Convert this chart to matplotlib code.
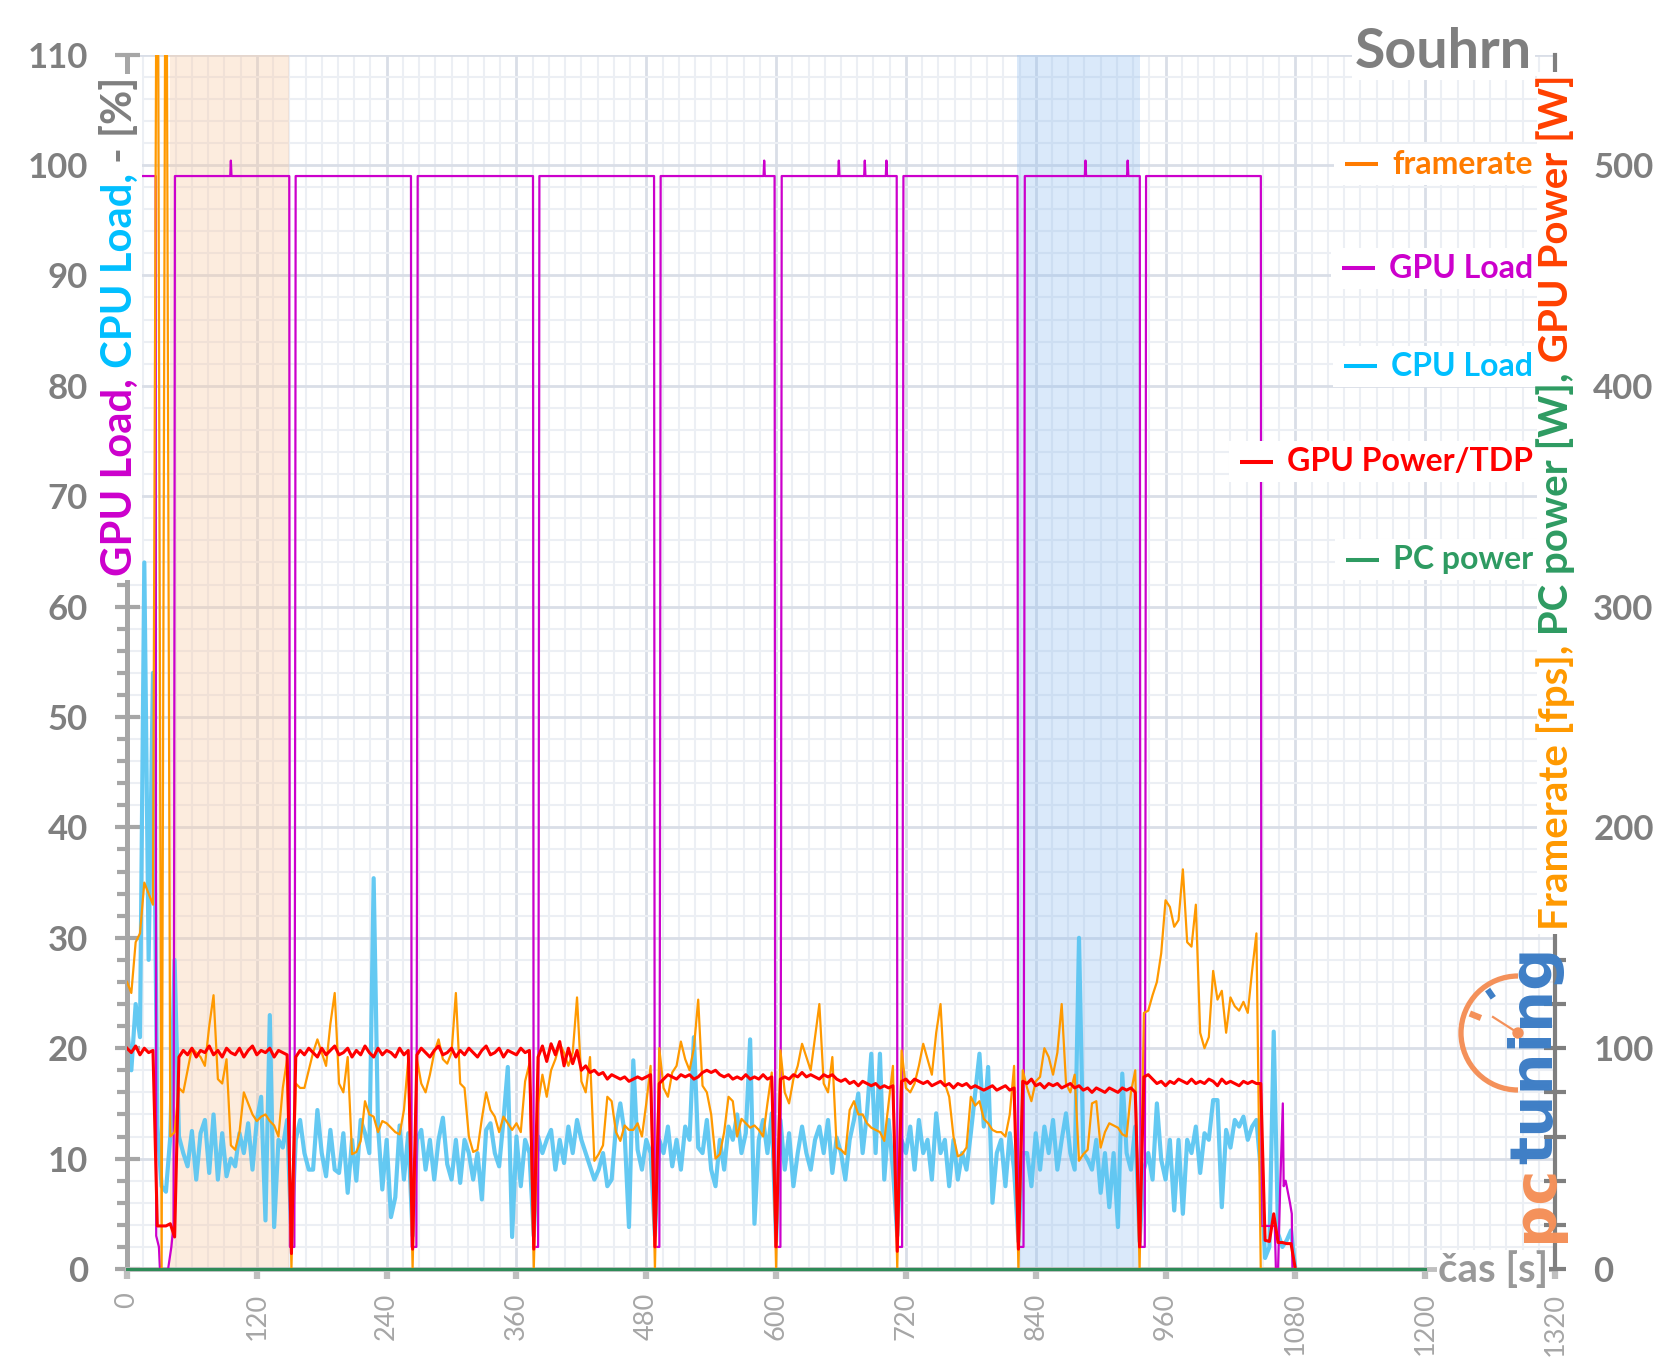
import numpy as np
import matplotlib
matplotlib.use("Agg")
import matplotlib.pyplot as plt
from matplotlib.lines import Line2D
from matplotlib.patches import Rectangle, Arc, Circle
from matplotlib.transforms import IdentityTransform
from matplotlib.ticker import MultipleLocator

plt.rcParams['font.family'] = ['Lato', 'DejaVu Sans']

# ---- data ----
# sample times for the noisy series [s], one sample every 4 s
t = np.arange(0, 1081, 4)

cpu_load = [  # [%]
    22, 18, 24, 21, 64, 28, 54, 13, 7.5, 7,
    12, 28, 12, 10.5, 9.3, 12.5, 8.1, 12.3, 13.5, 8.7,
    14, 8.1, 12.3, 8.4, 10, 9.3, 12.3, 10.5, 13.2, 9,
    13.5, 15.6, 4.4, 23, 3.8, 11.7, 11, 13.5, 2.9, 11.7,
    13.5, 10.5, 9, 9, 14.4, 10.5, 8.4, 12.6, 9, 8.7,
    12.3, 6.9, 11.7, 8, 13.5, 12.3, 10.5, 35.4, 13, 7.2,
    11.7, 4.7, 6.5, 13, 8.1, 12.3, 3, 11.7, 12.6, 9,
    11.7, 8.1, 11.7, 13.7, 9.5, 8.1, 11.7, 7.8, 11.7, 10.5,
    8.1, 10.5, 6.3, 12.6, 13.2, 10.5, 9.3, 13.5, 18.3, 2.9,
    12, 7.5, 11.7, 10.5, 3, 12, 10.5, 11.7, 12.6, 9,
    11.7, 9.6, 12.9, 10.5, 13.5, 11.7, 10.5, 9.3, 8.1, 9,
    10.5, 7.5, 8.1, 12.9, 15, 12.3, 3.8, 18.9, 10.8, 9,
    11.7, 10.5, 3, 11.7, 10.5, 12.9, 9.3, 11.7, 9, 12.9,
    11.7, 21, 11, 10.5, 13.5, 9, 7.5, 11.7, 9, 12.9,
    11.7, 14, 10.5, 12.3, 20.8, 4.1, 11.7, 13.5, 10.5, 14.1,
    2.5, 13.5, 9, 12.3, 7.5, 10.5, 12.9, 10.5, 9, 11.7,
    12.9, 10.5, 13.5, 8.7, 11.9, 10.5, 8.1, 11.7, 13.5, 15.9,
    10.5, 14.1, 19.5, 10.5, 19.5, 8.1, 13.5, 9, 3, 11.7,
    10.5, 12.9, 9, 13.5, 10.5, 11.7, 8.1, 14.1, 10.5, 11.7,
    7.5, 11.7, 8.1, 10.5, 9, 12.3, 15.9, 19.5, 12.9, 18.3,
    6, 10.5, 11.7, 7.5, 12.3, 9, 2.5, 10.5, 10.5, 7.5,
    12.3, 9, 12.9, 10.5, 13.5, 9, 11.7, 14.1, 10.5, 9,
    30, 10.5, 9.9, 9, 11.7, 6.9, 10.5, 5.6, 10.5, 3.8,
    17.7, 10.5, 9, 12.9, 2.5, 9, 10.5, 8.1, 15, 9.9,
    8.1, 11.7, 5.3, 11.7, 5, 11.7, 10.5, 12.9, 8.7, 12.3,
    11.7, 15.3, 15.3, 5.6, 12.6, 11, 13.5, 12.9, 13.8, 11.7,
    12.9, 13.5, 9, 1, 2, 21.5, 3.2, 2, 2.6, 3.5,
    0,
]

framerate = [  # [fps]
    130, 125, 148, 152, 175, 170, 165, 700, 0, 700,
    60, 62, 82, 80, 90, 100, 98, 96, 92, 110,
    124, 86, 84, 95, 56, 54, 62, 80, 75, 70,
    67, 69, 70, 67, 65, 60, 82, 95, 0, 84,
    82, 82, 90, 98, 104, 98, 92, 111, 125, 84,
    80, 96, 52, 53, 58, 76, 70, 69, 62, 67,
    66, 64, 62, 61, 72, 95, 0, 95, 84, 80,
    88, 98, 104, 95, 93, 98, 125, 84, 82, 60,
    53, 54, 68, 80, 72, 69, 62, 69, 66, 63,
    66, 62, 85, 93, 0, 75, 88, 78, 90, 95,
    102, 98, 92, 98, 123, 85, 80, 96, 49, 52,
    56, 78, 76, 62, 58, 65, 63, 63, 66, 60,
    75, 92, 0, 100, 82, 78, 89, 92, 103, 95,
    90, 100, 122, 83, 80, 70, 50, 52, 62, 78,
    76, 60, 68, 66, 64, 65, 63, 60, 75, 89,
    0, 99, 80, 75, 86, 92, 102, 96, 90, 105,
    120, 84, 80, 96, 55, 54, 52, 72, 76, 70,
    70, 66, 64, 63, 62, 58, 75, 92, 0, 99,
    82, 80, 84, 92, 102, 95, 88, 107, 120, 84,
    78, 60, 51, 52, 55, 78, 74, 76, 68, 66,
    63, 62, 62, 60, 70, 92, 0, 90, 82, 76,
    85, 87, 100, 96, 88, 98, 120, 84, 80, 88,
    49, 52, 54, 75, 76, 55, 62, 66, 65, 64,
    61, 60, 80, 90, 0, 116, 117, 124, 130, 143,
    167, 164, 155, 158, 181, 148, 146, 165, 107, 100,
    105, 135, 122, 126, 107, 123, 119, 117, 121, 116,
    135, 152, 0, 0, 0, 0, 0, 0, 0, 0,
    0,
]

gpu_power = [  # [W]
    100, 98, 101, 97, 100, 98, 99, 19.5, 19.5, 19.5,
    20.5, 14.5, 96, 99, 97, 100, 96, 99, 98, 101,
    97, 99, 96, 100, 98, 97, 100, 96, 99, 101,
    97, 99, 98, 100, 96, 99, 98, 97, 7, 96,
    99, 97, 100, 98, 96, 100, 97, 99, 101, 97,
    98, 100, 96, 99, 97, 101, 98, 96, 100, 97,
    99, 98, 96, 100, 97, 99, 9, 97, 100, 98,
    96, 99, 101, 97, 98, 100, 96, 99, 97, 100,
    98, 96, 99, 101, 97, 98, 100, 96, 99, 98,
    97, 100, 98, 99, 9, 96, 101, 94, 102, 97,
    103, 92, 100, 93, 99, 90, 92, 89, 90, 88,
    89, 86, 88, 87, 86, 87, 85, 86, 87, 86,
    87, 88, 10, 84, 86, 88, 87, 86, 88, 87,
    88, 86, 87, 89, 90, 89, 90, 88, 87, 88,
    86, 87, 86, 88, 86, 87, 86, 88, 86, 87,
    10, 86, 87, 86, 88, 87, 89, 87, 88, 87,
    86, 88, 87, 88, 86, 85, 86, 84, 85, 83,
    85, 84, 83, 84, 82, 83, 82, 83, 8, 85,
    86, 84, 86, 85, 84, 85, 83, 84, 85, 83,
    84, 82, 84, 83, 84, 82, 83, 82, 81, 82,
    83, 81, 82, 83, 81, 82, 9, 85, 84, 86,
    83, 84, 82, 84, 83, 84, 82, 83, 84, 82,
    83, 81, 82, 80, 82, 81, 80, 82, 81, 80,
    82, 81, 82, 80, 10, 87, 88, 86, 84, 85,
    83, 85, 84, 86, 85, 84, 86, 84, 85, 84,
    86, 85, 83, 86, 84, 85, 84, 83, 85, 84,
    85, 84, 84, 13, 12.5, 25, 12, 12, 11.5, 11.5,
    0,
]

# GPU load is a step signal -> explicit breakpoints
gpu_t = [0, 26.5, 27, 29.5, 30.5, 38, 41, 43, 43.6, 44.3,
         95.4, 96, 96.6,
         150, 150.6, 154.7, 155.3, 155.9,
         262.5, 263.1, 267.5, 268.1, 268.7,
         375.3, 375.9, 380, 380.6, 381.2,
         487.2, 487.8, 492.1, 492.7, 493.3,
         588.4, 589, 589.6,
         598.6, 599.2, 604, 604.6, 605.2,
         657.4, 658, 658.6, 681.4, 682, 682.6, 701.4, 702, 702.6,
         711.5, 712.1, 716.5, 717.1, 717.7,
         823.1, 823.7, 828.7, 829.3, 829.9,
         885.4, 886, 886.6, 924.4, 925, 925.6,
         936.2, 936.8, 940.8, 941.4, 942,
         1048.1, 1048.6, 1061, 1062, 1064, 1066, 1068.4, 1069.2,
         1071, 1073, 1075, 1076.7, 1077.3]
gpu_load = [99, 99, 3, 2, 0, 0, 2, 4, 38, 99,
            99, 100.4, 99,
            99, 2, 2, 38, 99,
            99, 2, 2, 38, 99,
            99, 2, 2, 38, 99,
            99, 2, 2, 38, 99,
            99, 100.4, 99,
            99, 2, 2, 38, 99,
            99, 100.4, 99, 99, 100.4, 99, 99, 100.4, 99,
            99, 2, 2, 38, 99,
            99, 2, 2, 38, 99,
            99, 100.4, 99, 99, 100.4, 99,
            99, 2, 2, 38, 99,
            99, 3.9, 3.9, 0, 0, 7.5, 15, 7.5,
            8, 7, 6, 5, 0]

pc_t = [0, 1200]
pc_power = [0, 0]

shade_orange = (40, 150)
shade_blue = (823, 936)

legend_labels = ['framerate', 'GPU Load', 'CPU Load', 'GPU Power/TDP', 'PC power']
legend_colors = ['#ff7b00', '#cc00cc', '#00bfff', '#ff0000', '#2e9b62']

# ---- layout ----
W, H = 1658, 1361
fig = plt.figure(figsize=(W / 100, H / 100), dpi=100, facecolor='white')


def fx(x):
    return x / W


def fy(y):
    return 1 - y / H


ax = fig.add_axes([fx(127), fy(1269), (1555 - 127) / W, (1269 - 54.6) / H])
ax.set_xlim(0, 1320)
ax.set_ylim(0, 110)
ax.set_axisbelow(True)
ax.xaxis.set_major_locator(MultipleLocator(120))
ax.xaxis.set_minor_locator(MultipleLocator(15))
ax.yaxis.set_major_locator(MultipleLocator(10))
ax.yaxis.set_minor_locator(MultipleLocator(2))
ax.grid(which='minor', color='#eceff4', lw=1.5)
ax.grid(which='major', color='#d9dee7', lw=2)

ax.tick_params(axis='y', which='major', direction='inout', length=18, width=3,
               color='#a6a6a6', labelsize=25, labelcolor='#7f7f7f', pad=19)
ax.tick_params(axis='y', which='minor', direction='out', length=7, width=3,
               color='#a6a6a6')
ax.tick_params(axis='x', which='major', direction='out', length=7, width=4.5,
               color='#bfbfbf', labelsize=19.5, labelcolor='#a6a6a6',
               labelrotation=90, pad=10)
ax.tick_params(axis='x', which='minor', length=0)
for lbl in ax.get_yticklabels():
    lbl.set_fontweight('bold')

ax.spines['left'].set(color='#a6a6a6', lw=3.6)
ax.spines['bottom'].set(color='#bfbfbf', lw=3.5)
ax.spines['top'].set_visible(False)
ax.spines['right'].set_visible(False)

ax.axvspan(*shade_orange, color='#f9c9a1', alpha=0.35, lw=0, zorder=1)
ax.axvspan(*shade_blue, color='#95c0f1', alpha=0.35, lw=0, zorder=1)

ax.plot(t, cpu_load, color='#5cc6f2', lw=3, alpha=0.95, zorder=2)
ax.plot(gpu_t, gpu_load, color='#cc00cc', lw=1.6, zorder=3)

ax2 = ax.twinx()
ax2.set_ylim(0, 550)
ax2.yaxis.set_major_locator(MultipleLocator(100))
ax2.yaxis.set_minor_locator(MultipleLocator(20))
ax2.tick_params(axis='y', which='both', direction='inout', length=16, width=3,
                color='#7f7f7f', labelsize=25, labelcolor='#7f7f7f', pad=19.5)
for lbl in ax2.get_yticklabels():
    lbl.set_fontweight('bold')
for s in ['left', 'top', 'bottom']:
    ax2.spines[s].set_visible(False)
ax2.spines['right'].set(color='#7f7f7f', lw=3)

ax2.plot(t, framerate, color='#ff9900', lw=1.6, zorder=2)
ax2.plot(t, gpu_power, color='#ff0000', lw=2.2, zorder=3)
ax2.plot(pc_t, pc_power, color='#2e8b57', lw=2.2, zorder=4, clip_on=False)

r = fig.canvas.get_renderer()
ident = IdentityTransform()


def vlabel(pieces, xc, y_bottom, y_top, weight='bold', va='center', family=None):
    whole = ''.join(p for p, _ in pieces)
    kw = dict(rotation=90, fontweight=weight)
    if family:
        kw['family'] = family
    tmp = fig.text(0, 0, whole, fontsize=30, **kw)
    size = 30 * (y_bottom - y_top) / tmp.get_window_extent(r).height
    tmp.remove()
    y = y_bottom
    for p, c in pieces:
        tx = fig.text(fx(xc), fy(y), p, rotation_mode='anchor', ha='left', va=va,
                      fontsize=size, color=c, zorder=5, **kw)
        y -= tx.get_window_extent(r).height


# white boxes behind the axis titles
fig.add_artist(Rectangle((103, H - 580), 39, 506, transform=ident,
                         facecolor='white', edgecolor='none', zorder=4))
fig.add_artist(Rectangle((1537, H - 934), 38, 862, transform=ident,
                         facecolor='white', edgecolor='none', zorder=4))

vlabel([('GPU Load,', '#cc00cc'), (' CPU Load,', '#00bfff'), (' - [%]', '#7f7f7f')],
       120, 576, 78)
vlabel([('Framerate [fps],', '#ff9900'), (' PC power [W],', '#2e9b62'),
        (' GPU Power [W]', '#ff4000')], 1556, 930, 76)

# legend on the right
for lab, col, yy in zip(legend_labels, legend_colors, [164, 268, 366, 462, 560]):
    tx = fig.text(fx(1533), fy(yy), lab, ha='right', va='center', color=col,
                  fontsize=23, fontweight='bold', zorder=5)
    bb = tx.get_window_extent(r)
    fig.add_artist(Rectangle((bb.x0 - 58, bb.y0 - 6), bb.x1 - bb.x0 + 64, bb.height + 12,
                             transform=ident, facecolor='white', edgecolor='none',
                             zorder=4))
    fig.add_artist(Line2D([bb.x0 - 47, bb.x0 - 14], [H - yy, H - yy], transform=ident,
                          color=col, lw=2.9, zorder=6, solid_capstyle='butt'))

fig.text(fx(1532), fy(68), 'Souhrn', ha='right', va='baseline', fontsize=40,
         fontweight='bold', color='#7f7f7f', zorder=5,
         bbox=dict(facecolor='white', edgecolor='none', pad=2))
fig.text(fx(1548), fy(1270), 'čas [s]', ha='right', va='center', fontsize=29,
         fontweight='bold', color='#999999', zorder=5,
         bbox=dict(facecolor='white', edgecolor='none', pad=1))

# pctuning logo
vlabel([('pc', '#f4915a'), ('tuning', '#3f7fc6')], 1552, 1242, 947,
       va='baseline', family='DejaVu Sans')
axo = fig.add_axes([0, 0, 1, 1])
axo.set_xlim(0, W)
axo.set_ylim(H, 0)
axo.axis('off')
axo.patch.set_alpha(0)
axo.add_patch(Arc((1518, 1033), 114, 114, theta1=90, theta2=270,
                  color='#f4915a', lw=3.8))
axo.plot([1493.3, 1487.6], [997.8, 989.6], color='#3f7fc6', lw=4.5,
         solid_capstyle='butt')
axo.plot([1480.9, 1469.8], [1018, 1013.5], color='#f4915a', lw=4.5,
         solid_capstyle='butt')
axo.plot([1518, 1493], [1033, 1017], color='#f4915a', lw=1.6)
axo.add_patch(Circle((1518, 1033), 5, color='#f4915a'))

fig.savefig('out.png', dpi=100)
